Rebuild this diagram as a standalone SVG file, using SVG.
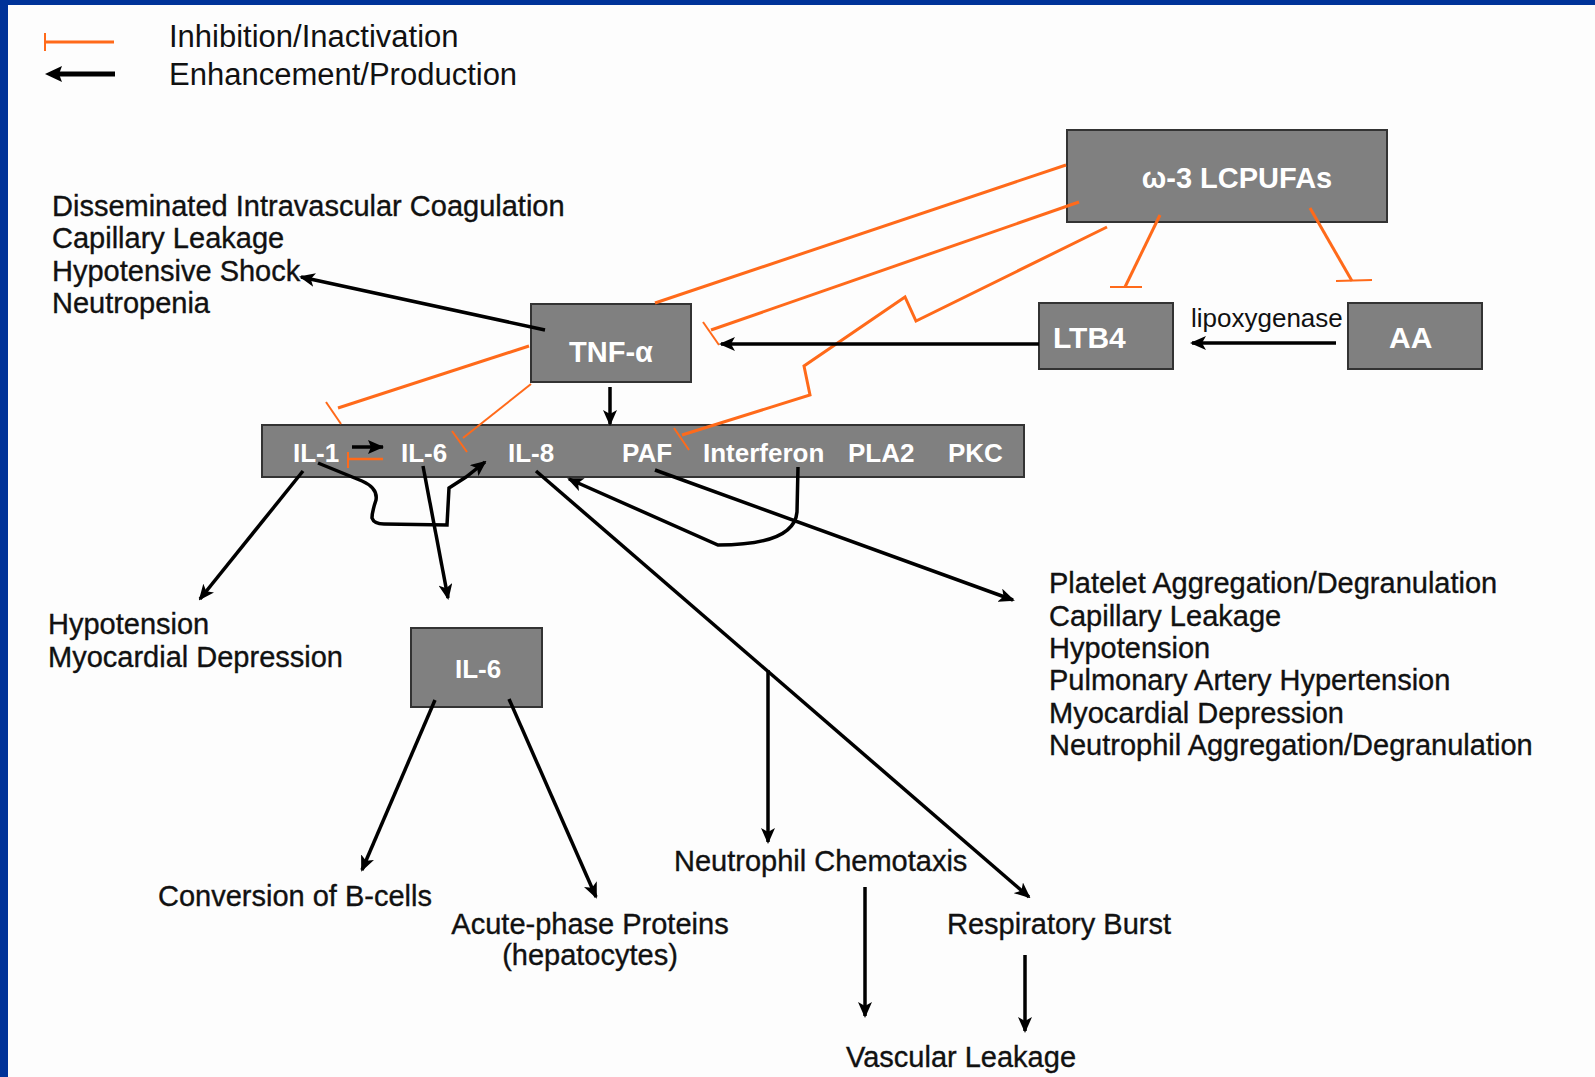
<svg xmlns="http://www.w3.org/2000/svg" width="1595" height="1077" viewBox="0 0 1595 1077">
<defs>
<style>
.box{fill:#808080;stroke:#333;stroke-width:2}
.bl{font-family:"Liberation Sans",Arial,sans-serif;font-weight:bold;fill:#fff}
.t{font-family:"Liberation Sans",Arial,sans-serif;font-size:29px;fill:#111;stroke:#111;stroke-width:0.35}
.inh{fill:none;stroke:#FF6A1A;stroke-width:3}
.bar{fill:none;stroke:#FF6A1A;stroke-width:2}
.act{fill:none;stroke:#000;stroke-width:3.5;marker-end:url(#arr)}
</style>
<marker id="arr" markerWidth="16" markerHeight="14" refX="14" refY="7" orient="auto" markerUnits="userSpaceOnUse">
<path d="M0,0 L16,7 L0,14 L4,7 z" fill="#000"/>
</marker>
</defs>
<rect x="0" y="0" width="1595" height="1077" fill="#fdfdfd"/>
<rect x="0" y="0" width="1595" height="5" fill="#003399"/>
<rect x="0" y="0" width="8" height="1077" fill="#003399"/>

<g id="legend">
<line class="inh" x1="45" y1="42" x2="114" y2="42"/>
<line class="bar" x1="45" y1="33" x2="45" y2="51"/>
<line x1="115" y1="74" x2="58" y2="74" stroke="#000" stroke-width="5"/>
<path d="M45,74 L62,66 L59,74 L62,82 z" fill="#000"/>
<text x="169" y="47" font-family="Liberation Sans,Arial,sans-serif" font-size="31" fill="#111">Inhibition/Inactivation</text>
<text x="169" y="85" font-family="Liberation Sans,Arial,sans-serif" font-size="31" fill="#111">Enhancement/Production</text>
</g>

<g id="cytokines">
<rect class="box" x="262" y="425" width="762" height="52"/>
<g class="bl" font-size="26">
<text x="293" y="462">IL-1</text>
<text x="401" y="462">IL-6</text>
<text x="508" y="462">IL-8</text>
<text x="622" y="462">PAF</text>
<text x="703" y="462">Interferon</text>
<text x="848" y="462">PLA2</text>
<text x="948" y="462">PKC</text>
</g>
</g>

<g id="omega3">
<rect class="box" x="1067" y="130" width="320" height="92"/>
<text class="bl" x="1237" y="188" font-size="29" text-anchor="middle">ω-3 LCPUFAs</text>
</g>
<g id="ltb4">
<rect class="box" x="1039" y="303" width="134" height="66"/>
<text class="bl" x="1053" y="348" font-size="30">LTB4</text>
</g>
<g id="aa">
<rect class="box" x="1348" y="303" width="134" height="66"/>
<text class="bl" x="1389" y="348" font-size="30">AA</text>
</g>
<g id="tnf">
<rect class="box" x="531" y="304" width="160" height="78"/>
<text class="bl" x="611" y="362" font-size="29" text-anchor="middle">TNF-α</text>
</g>
<g id="il6box">
<rect class="box" x="411" y="628" width="131" height="79"/>
<text class="bl" x="455" y="678" font-size="26" fill="#eee">IL-6</text>
</g>

<g id="labels">
<text x="1191" y="327" font-family="Liberation Sans,Arial,sans-serif" font-size="26" fill="#111">lipoxygenase</text>
<text class="t" x="52" y="216">Disseminated Intravascular Coagulation</text>
<text class="t" x="52" y="248">Capillary Leakage</text>
<text class="t" x="52" y="281">Hypotensive Shock</text>
<text class="t" x="52" y="313">Neutropenia</text>
<text class="t" x="48" y="634">Hypotension</text>
<text class="t" x="48" y="667">Myocardial Depression</text>
<text class="t" x="1049" y="593">Platelet Aggregation/Degranulation</text>
<text class="t" x="1049" y="626">Capillary Leakage</text>
<text class="t" x="1049" y="658">Hypotension</text>
<text class="t" x="1049" y="690">Pulmonary Artery Hypertension</text>
<text class="t" x="1049" y="723">Myocardial Depression</text>
<text class="t" x="1049" y="755">Neutrophil Aggregation/Degranulation</text>
<text class="t" x="158" y="906">Conversion of B-cells</text>
<text class="t" x="590" y="934" text-anchor="middle">Acute-phase Proteins</text>
<text class="t" x="590" y="965" text-anchor="middle">(hepatocytes)</text>
<text class="t" x="674" y="871">Neutrophil Chemotaxis</text>
<text class="t" x="947" y="934">Respiratory Burst</text>
<text class="t" x="846" y="1067">Vascular Leakage</text>
</g>

<g id="connectors">
<!-- inhibition lines -->
<line class="inh" x1="1066" y1="165" x2="655" y2="303"/>
<line class="inh" x1="1079" y1="202" x2="711" y2="330"/>
<line class="bar" x1="703" y1="322" x2="719" y2="345"/>
<polyline class="inh" points="1107,227 916,321 905,297 804,366 810,395 682,435"/>
<line class="bar" x1="674" y1="428" x2="689" y2="450"/>
<line class="inh" x1="1160" y1="215" x2="1125" y2="287"/>
<line class="bar" x1="1110" y1="287" x2="1142" y2="287"/>
<line class="inh" x1="1310" y1="208" x2="1352" y2="281"/>
<line class="bar" x1="1336" y1="281" x2="1372" y2="280"/>
<line class="inh" x1="529" y1="346" x2="338" y2="408"/>
<line class="bar" x1="326" y1="402" x2="341" y2="424"/>
<line class="inh" x1="531" y1="384" x2="463" y2="438" style="stroke-width:2"/>
<line class="bar" x1="452" y1="431" x2="467" y2="452"/>
<line class="bar" x1="383" y1="459" x2="348" y2="459" style="stroke-width:2.5"/>
<line class="bar" x1="348" y1="452" x2="348" y2="468"/>

<!-- activation arrows -->
<line x1="383" y1="447" x2="352" y2="447" stroke="#000" stroke-width="3.5"/>
<path d="M384,447 L368,440 L371,447 L368,454 z" fill="#000"/>
<line class="act" x1="545" y1="330" x2="301" y2="277"/>
<line class="act" x1="1039" y1="344" x2="721" y2="344"/>
<line class="act" x1="1336" y1="343" x2="1192" y2="343"/>
<line class="act" x1="610" y1="387" x2="610" y2="424"/>
<line class="act" x1="303" y1="471" x2="200" y2="599"/>
<line class="act" x1="423" y1="466" x2="448" y2="598"/>
<line class="act" x1="536" y1="471" x2="1029" y2="897"/>
<line class="act" x1="768" y1="670" x2="768" y2="842"/>
<line class="act" x1="865" y1="887" x2="865" y2="1016"/>
<line class="act" x1="1025" y1="955" x2="1025" y2="1031"/>
<line class="act" x1="435" y1="700" x2="362" y2="870"/>
<line class="act" x1="509" y1="699" x2="596" y2="897"/>
<line class="act" x1="655" y1="470" x2="1013" y2="600"/>
<path class="act" d="M798,467 L797,512 C795,536 765,545 718,545 L569,479"/>
<path class="act" d="M318,463 L362,481 Q378,488 376,500 Q372,512 372,518 Q374,524 384,524 L447,525 L449,488 L466,477 L485,462"/>
</g>
</svg>
